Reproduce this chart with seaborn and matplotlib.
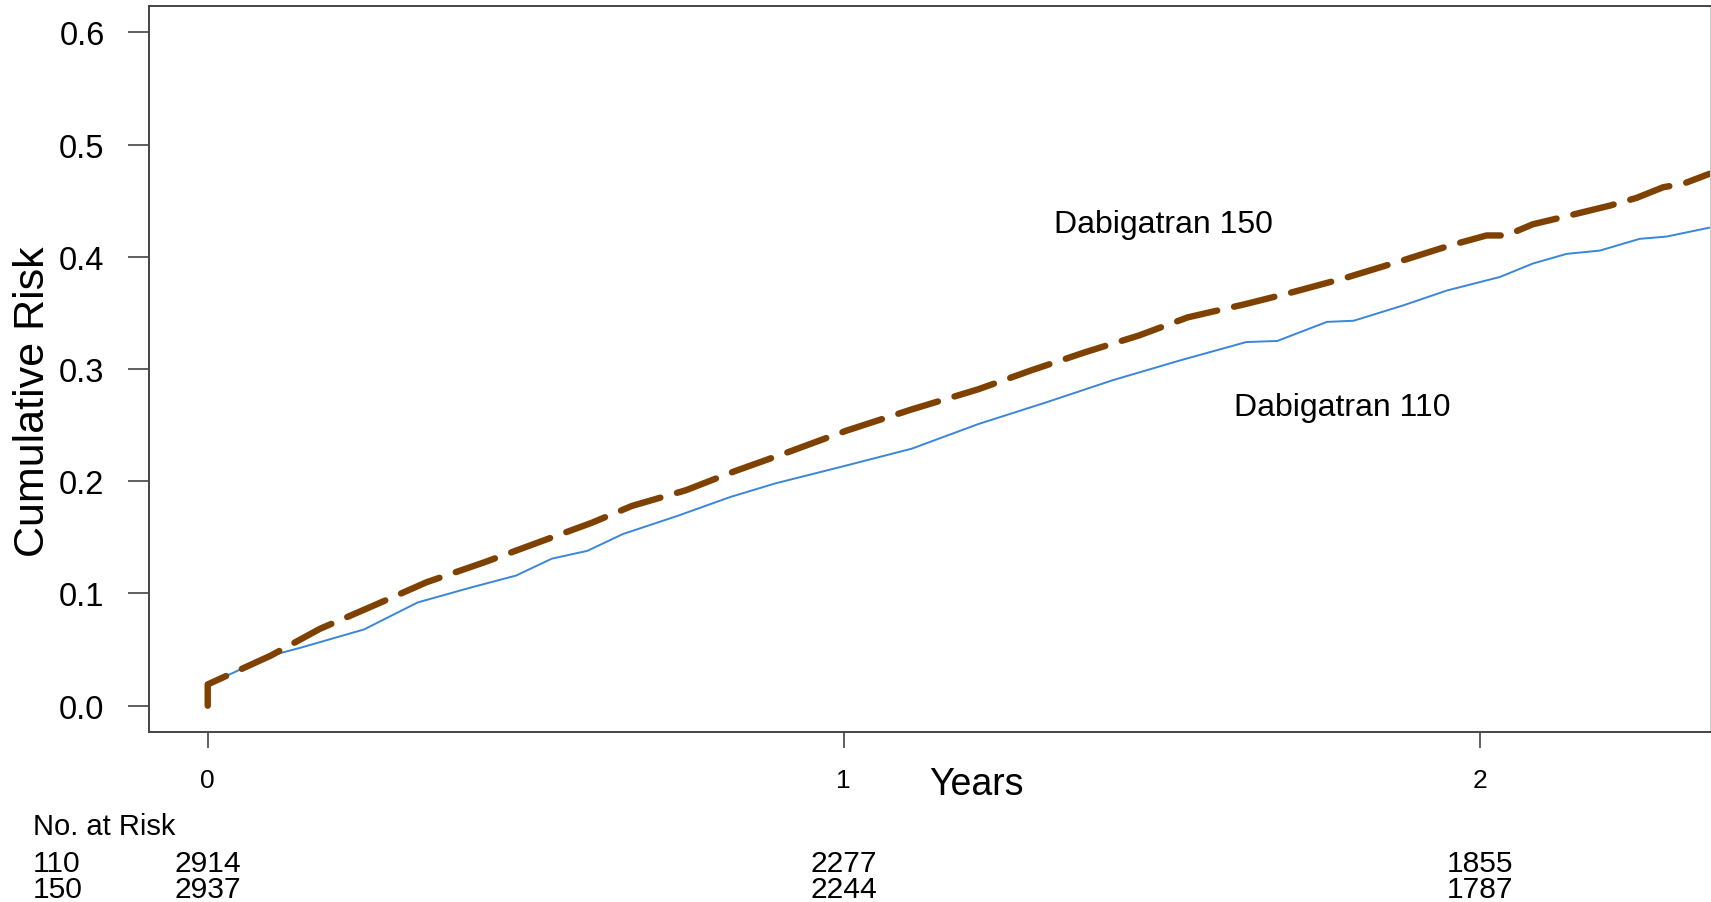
import matplotlib
matplotlib.use('Agg')
import matplotlib.pyplot as plt
import matplotlib.transforms as mtransforms
import seaborn as sns
import pandas as pd

sns.set_style('ticks')
plt.rcParams['font.family'] = ['Liberation Sans', 'DejaVu Sans']
plt.rcParams['text.color'] = 'black'
plt.rcParams['axes.labelcolor'] = 'black'
plt.rcParams['xtick.labelcolor'] = 'black'
plt.rcParams['ytick.labelcolor'] = 'black'

# cumulative risk curves (years, risk)
years_110 = [0, 0, 0.099, 0.148, 0.246, 0.33, 0.415, 0.485, 0.541, 0.597, 0.653, 0.738,
             0.822, 0.892, 1.004, 1.107, 1.212, 1.317, 1.423, 1.528, 1.633, 1.682, 1.760,
             1.802, 1.879, 1.949, 2.032, 2.084, 2.137, 2.189, 2.252, 2.294, 2.362]
risk_110 = [0, 0.019, 0.0446, 0.052, 0.068, 0.092, 0.1055, 0.116, 0.131, 0.138, 0.153, 0.169,
            0.186, 0.198, 0.214, 0.229, 0.251, 0.270, 0.290, 0.3075, 0.324, 0.325, 0.342,
            0.343, 0.3565, 0.370, 0.382, 0.394, 0.4026, 0.4055, 0.416, 0.418, 0.426]

years_150 = [0, 0, 0.099, 0.176, 0.26, 0.344, 0.436, 0.527, 0.604, 0.667, 0.752, 0.829,
             0.913, 1.004, 1.107, 1.212, 1.296, 1.380, 1.465, 1.541, 1.633, 1.703, 1.788,
             1.875, 1.953, 2.011, 2.042, 2.084, 2.121, 2.205, 2.247, 2.289, 2.320, 2.362]
risk_150 = [0, 0.019, 0.0446, 0.0684, 0.089, 0.110, 0.128, 0.147, 0.163, 0.178, 0.192, 0.209,
            0.226, 0.245, 0.264, 0.282, 0.299, 0.315, 0.330, 0.346, 0.358, 0.368, 0.381,
            0.396, 0.410, 0.419, 0.419, 0.429, 0.434, 0.4456, 0.4525, 0.462, 0.465, 0.474]

# numbers at risk
risk_times = [0, 1, 2]
at_risk_110 = [2914, 2277, 1855]
at_risk_150 = [2937, 2244, 1787]

x_ticks = [0, 1, 2]
y_ticks = [0.0, 0.1, 0.2, 0.3, 0.4, 0.5, 0.6]

df110 = pd.DataFrame({'Years': years_110, 'Risk': risk_110})
df150 = pd.DataFrame({'Years': years_150, 'Risk': risk_150})

fig = plt.figure(figsize=(17.11, 9.03), dpi=100)
ax = fig.add_axes([0.0871, 0.1879, 0.9129, 0.8043])

sns.lineplot(data=df110, x='Years', y='Risk', ax=ax, color='#3a86d8', linewidth=1.4,
             sort=False, estimator=None)
sns.lineplot(data=df150, x='Years', y='Risk', ax=ax, color='#7f4100', linewidth=4.6,
             sort=False, estimator=None)
brown = ax.lines[-1]
brown.set_dashes((6.5, 2.7))
brown.set_dash_capstyle('round')
brown.set_solid_capstyle('round')

ax.set_xlim(-0.0923, 2.364)
ax.set_ylim(-0.0237, 0.6234)
ax.set_xticks(x_ticks)
ax.set_xticklabels([str(v) for v in x_ticks], fontsize=19)
ax.set_yticks(y_ticks)
ax.set_yticklabels(['%.1f' % v for v in y_ticks], fontsize=23.5)
ax.tick_params(axis='y', length=15, width=1.2, color='#444444', pad=17)
ax.tick_params(axis='x', length=11.5, width=1.2, color='#444444', pad=14)
for s in ax.spines.values():
    s.set_color('#444444')
    s.set_linewidth(1.4)
ax.spines['right'].set_color('#cccccc')

ax.set_xlabel('')
ax.set_ylabel('Cumulative Risk', fontsize=31)
ax.yaxis.label.set_va('center')
ax.yaxis.set_label_coords((33 - 149) / 1562, 0.457)

ax.text(1.331, 0.429, 'Dabigatran 150', fontsize=23, va='center', ha='left')
ax.text(1.614, 0.266, 'Dabigatran 110', fontsize=23, va='center', ha='left')

fig.text(976 / 1711, 1 - 785 / 903, 'Years', fontsize=27, ha='center', va='center')

# number at risk table below the plot
trans = mtransforms.blended_transform_factory(ax.transData, fig.transFigure)
fig.text(33 / 1711, 1 - 827 / 903, 'No. at Risk', fontsize=21, ha='left', va='center')
fig.text(33 / 1711, 1 - 864 / 903, '110', fontsize=21.6, ha='left', va='center')
fig.text(33 / 1711, 1 - 890 / 903, '150', fontsize=21.6, ha='left', va='center')
for t, n1, n2 in zip(risk_times, at_risk_110, at_risk_150):
    ax.text(t, 1 - 864 / 903, str(n1), transform=trans, fontsize=21.6, ha='center', va='center',
            clip_on=False)
    ax.text(t, 1 - 890 / 903, str(n2), transform=trans, fontsize=21.6, ha='center', va='center',
            clip_on=False)

fig.savefig('out.png', dpi=100, facecolor='white')
